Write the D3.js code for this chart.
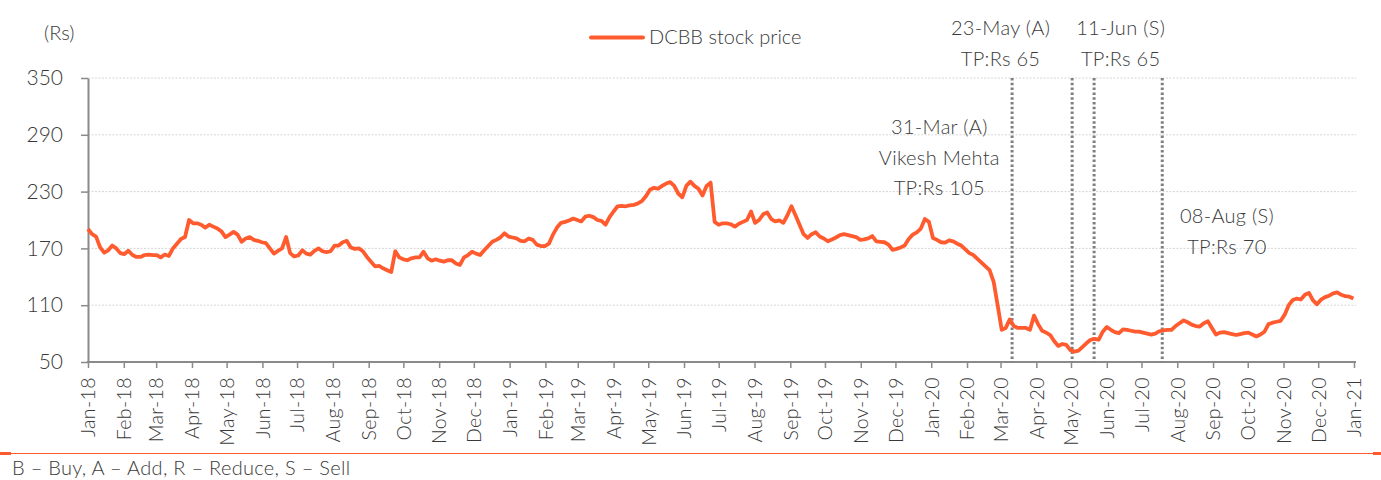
<!DOCTYPE html>
<html>
<head>
<meta charset="utf-8">
<script src="https://cdn.jsdelivr.net/npm/d3@7"></script>
<style>
  html, body { margin: 0; padding: 0; background: #fff; }
  svg { display: block; font-family: Lato, "Open Sans", sans-serif; font-weight: 300; }
</style>
</head>
<body>
<svg id="chart" width="1381" height="480"></svg>
<script>
// Price readings, one every 3.5 days starting 1-Jan-2018
const seriesStart = '2018-01-01';
const stepHours = 84;

const prices2018 = [
  190.5, 185, 182.5, 171, 165.5, 168, 173, 170, 165, 164,
  167.5, 163, 161, 161, 163, 163.5, 163, 163, 160.5, 163.5,
  162, 170, 175, 180, 182, 200, 196.5, 196.5, 195, 192,
  195, 193, 191, 188, 182, 184.5, 187.5, 184.5, 177, 180.5,
  182, 179, 178, 176.5, 175.5, 170, 164.5, 167.5, 170, 182,
  165, 161.5, 162.5, 168, 164.5, 163.5, 167.5, 170, 167, 166,
  167, 173, 173, 176.5, 178, 171, 169.5, 170, 167, 161,
  156, 151, 151.5, 149, 147, 145, 167, 160.5, 158.5, 157.5,
  159.5, 160.5, 160.5, 166.5, 159.5, 157, 158.5, 157, 156, 157.5,
  157.5, 154, 152.5, 160.5, 163, 166.5, 164.5, 163, 168, 172.5,
  177, 179, 181.5, 186, 182.5
];

const prices2019 = [
  181.5, 180.5, 178, 177.5, 180.5, 179, 174, 172.5, 172.5, 175,
  184.5, 192, 197, 198, 199.5, 201.5, 200, 198.5, 203.5, 204.5,
  203, 200, 199, 195, 203, 209, 214.5, 215, 214.5, 215.5,
  216, 217.5, 220, 225, 232, 234, 233, 236, 238.5, 240,
  236, 228, 224, 236, 240.5, 236, 233, 226, 236, 239.5,
  198, 195, 196.5, 196.5, 195.5, 193, 196, 198, 200, 209,
  197, 200, 206, 208, 201, 198.5, 199.5, 197, 205, 214.5,
  205, 195, 185, 181, 185, 187, 182.5, 180.5, 177.5, 179.5,
  181.5, 184, 185, 184, 183, 182, 179, 179.5, 180.5, 183,
  177.5, 177, 176.5, 174, 168.5, 169.5, 171, 173, 180, 184.5,
  187, 191, 201, 198
];

const prices2020 = [
  181, 179, 176.5, 176, 178.5, 177.5, 175, 173, 169, 165,
  163, 159, 155, 151, 147, 135, 110, 84, 86, 95,
  88, 86, 86, 86, 84, 99, 90, 83, 81, 78.5,
  72, 67, 69, 68, 62.5, 61, 62, 66, 70, 73.5,
  74.5, 73.5, 82, 87, 84, 81.5, 80.5, 84.5, 84, 83,
  82, 82, 81, 80, 79, 80, 82.5, 83.5, 84, 84,
  88, 91, 94, 92, 89.5, 88, 87.5, 91, 93, 86,
  79, 81, 81.5, 80.5, 79.5, 78.5, 79.5, 80.5, 81, 79,
  77, 79, 82, 90, 91.5, 92.5, 93.5, 100, 110, 115.5,
  117, 116, 121, 123, 115, 111, 116, 118.5, 120, 122.5,
  123.5, 121, 119.5, 119, 117
];

const yTicks = [50, 110, 170, 230, 290, 350];

// Rating / target price events (dotted verticals)
const eventDates = ['2020-03-11', '2020-05-02', '2020-05-21', '2020-07-19'];

// Annotation blocks: centre date, first line y, lines
const noteDates = ['2020-01-08', '2020-03-01', '2020-06-13', '2020-09-13'];
const noteTops = [127, 28, 28, 216];
const noteLines = [
  ['31-Mar (A)', 'Vikesh Mehta', 'TP:Rs 105'],
  ['23-May (A)', 'TP:Rs 65'],
  ['11-Jun (S)', 'TP:Rs 65'],
  ['08-Aug (S)', 'TP:Rs 70']
];

const legendLabel = 'DCBB stock price';
const unitLabel = '(Rs)';
const footnote = 'B \u2013 Buy, A \u2013 Add, R \u2013 Reduce, S \u2013 Sell';

const orange = '#ff5b2e';
const textColor = '#3a3a3a';
const axisColor = '#8a8a8a';

const parseDate = d3.timeParse('%Y-%m-%d');
const prices = prices2018.concat(prices2019, prices2020);
const start = parseDate(seriesStart);
const data = prices.map((p, i) => ({ date: d3.timeHour.offset(start, i * stepHours), price: p }));

const svg = d3.select('#chart');
const width = 1381;

const margin = { top: 78, left: 88, right: 1356, bottom: 362 };

const x = d3.scaleTime()
  .domain([parseDate('2018-01-01'), parseDate('2021-01-01')])
  .range([margin.left, 1354]);

const y = d3.scaleLinear()
  .domain([50, 350])
  .range([margin.bottom, margin.top]);

// Grid lines
svg.append('g')
  .selectAll('line')
  .data(yTicks.filter(d => d > 50))
  .join('line')
  .attr('x1', margin.left)
  .attr('x2', margin.right)
  .attr('y1', d => y(d))
  .attr('y2', d => y(d))
  .attr('stroke', '#d6d6d6')
  .attr('stroke-width', 1)
  .attr('stroke-dasharray', '2,1.5');

// Y axis
svg.append('g')
  .attr('transform', `translate(${margin.left},0)`)
  .call(d3.axisLeft(y).tickValues(yTicks).tickSize(7).tickPadding(18).tickSizeOuter(0))
  .call(g => g.select('.domain').attr('stroke', axisColor).attr('stroke-width', 2))
  .call(g => g.selectAll('.tick line').attr('stroke', axisColor).attr('stroke-width', 1.5))
  .call(g => g.selectAll('text')
    .attr('fill', textColor)
    .attr('font-size', '21px')
    .attr('font-family', 'Lato, sans-serif'));

// X axis
const xAxis = svg.append('g')
  .attr('transform', `translate(0,${margin.bottom})`)
  .call(d3.axisBottom(x).ticks(d3.timeMonth.every(1)).tickSize(6).tickSizeOuter(0)
    .tickFormat(d3.timeFormat('%b-%y')));

xAxis.select('.domain').remove();
xAxis.append('line')
  .attr('x1', margin.left - 1)
  .attr('x2', margin.right)
  .attr('stroke', axisColor)
  .attr('stroke-width', 2);
xAxis.selectAll('.tick line').attr('stroke', axisColor).attr('stroke-width', 1.5);
xAxis.selectAll('.tick text')
  .attr('fill', textColor)
  .attr('font-size', '19.5px')
  .attr('font-family', 'Lato, sans-serif')
  .attr('letter-spacing', '0.4px')
  .attr('text-anchor', 'end')
  .attr('transform', 'translate(0,15) rotate(-90)')
  .attr('x', 0)
  .attr('y', 0)
  .attr('dy', '0.35em');

// Event dotted lines
svg.append('g')
  .selectAll('line')
  .data(eventDates)
  .join('line')
  .attr('x1', d => x(parseDate(d)))
  .attr('x2', d => x(parseDate(d)))
  .attr('y1', y(350))
  .attr('y2', y(50))
  .attr('stroke', '#7f7f7f')
  .attr('stroke-width', 3)
  .attr('stroke-dasharray', '2.5,2.3');

// Price line
const line = d3.line()
  .x(d => x(d.date))
  .y(d => y(d.price));

svg.append('path')
  .datum(data)
  .attr('fill', 'none')
  .attr('stroke', orange)
  .attr('stroke-width', 3.8)
  .attr('stroke-linejoin', 'round')
  .attr('d', line);

// Annotations
noteLines.forEach((lines, k) => {
  const cx = x(parseDate(noteDates[k]));
  svg.append('text')
    .attr('fill', textColor)
    .attr('font-size', '20px')
    .attr('letter-spacing', '0.3px')
    .attr('text-anchor', 'middle')
    .selectAll('tspan')
    .data(lines)
    .join('tspan')
    .attr('x', cx)
    .attr('y', (d, i) => noteTops[k] + i * 30.5)
    .attr('dy', '0.35em')
    .text(d => d);
});

// Legend
svg.append('line')
  .attr('x1', 591).attr('x2', 643)
  .attr('y1', 37.5).attr('y2', 37.5)
  .attr('stroke', orange)
  .attr('stroke-width', 4)
  .attr('stroke-linecap', 'round');
svg.append('text')
  .attr('x', 649).attr('y', 37)
  .attr('dy', '0.35em')
  .attr('fill', textColor)
  .attr('font-size', '20px')
  .text(legendLabel);

// Unit label
svg.append('text')
  .attr('x', 44).attr('y', 33)
  .attr('dy', '0.35em')
  .attr('fill', textColor)
  .attr('font-size', '20px')
  .text(unitLabel);

// Footer rule and note
svg.append('line')
  .attr('x1', 0).attr('x2', width)
  .attr('y1', 453.5).attr('y2', 453.5)
  .attr('stroke', orange)
  .attr('stroke-width', 1);
svg.append('rect')
  .attr('x', 0).attr('y', 452).attr('width', 11).attr('height', 3)
  .attr('fill', orange);
svg.append('rect')
  .attr('x', 1373).attr('y', 452).attr('width', 8).attr('height', 3)
  .attr('fill', orange);

svg.append('text')
  .attr('x', 12).attr('y', 468)
  .attr('dy', '0.35em')
  .attr('fill', textColor)
  .attr('font-size', '20px')
  .attr('letter-spacing', '0.3px')
  .text(footnote);
</script>
</body>
</html>
